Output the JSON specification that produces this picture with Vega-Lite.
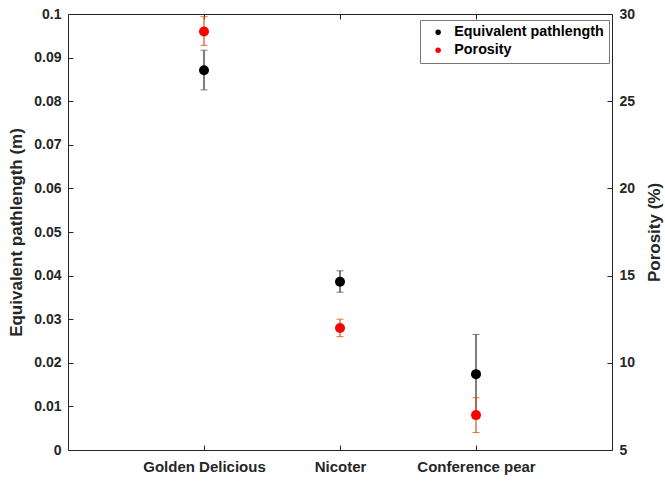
{
  "$schema": "https://vega.github.io/schema/vega-lite/v6.json",
  "width": 544,
  "height": 436,
  "autosize": {"type": "none"},
  "padding": {"left": 68, "top": 14, "right": 53, "bottom": 31},
  "background": "white",
  "config": {
    "view": {"stroke": null},
    "font": "Liberation Sans",
    "axis": {
      "labelFont": "Liberation Sans",
      "labelFontWeight": "bold",
      "labelFontSize": 14,
      "labelColor": "#262626",
      "titleFont": "Liberation Sans",
      "titleFontWeight": "bold",
      "titleFontSize": 17,
      "titleColor": "#262626",
      "domainColor": "#262626",
      "tickColor": "#262626",
      "grid": false,
      "tickSize": -5,
      "domainWidth": 1,
      "tickWidth": 1
    },
    "legend": {
      "orient": "none",
      "legendX": 352,
      "legendY": 6,
      "fillColor": "white",
      "strokeColor": "#777777",
      "padding": 5,
      "symbolOffset": 6,
      "labelFont": "Liberation Sans",
      "labelFontSize": 14.3,
      "labelFontWeight": "bold",
      "labelColor": "#000000",
      "rowPadding": 3,
      "labelOffset": 9,
      "symbolType": "circle",
      "symbolSize": 30
    }
  },
  "datasets": {
    "pl": [
      {"cultivar": "Golden Delicious", "series": "Equivalent pathlength", "value": 0.0871, "lo": 0.0826, "hi": 0.0917},
      {"cultivar": "Nicoter", "series": "Equivalent pathlength", "value": 0.0386, "lo": 0.0362, "hi": 0.0411},
      {"cultivar": "Conference pear", "series": "Equivalent pathlength", "value": 0.0174, "lo": 0.0083, "hi": 0.0265}
    ],
    "po": [
      {"cultivar": "Golden Delicious", "series": "Porosity", "value": 29.0, "lo": 28.2, "hi": 29.85},
      {"cultivar": "Nicoter", "series": "Porosity", "value": 12.0, "lo": 11.5, "hi": 12.5},
      {"cultivar": "Conference pear", "series": "Porosity", "value": 7.0, "lo": 6.0, "hi": 8.0}
    ]
  },
  "layer": [
    {
      "data": {"name": "pl"},
      "mark": {"type": "rule", "color": "#555555", "strokeWidth": 1.5},
      "encoding": {
        "x": {"field": "cultivar", "type": "nominal",
          "scale": {"type": "point", "domain": ["Golden Delicious", "Nicoter", "Conference pear"], "padding": 1},
          "axis": {"orient": "bottom", "title": null, "labelAngle": 0, "labelPadding": 14, "labelFontSize": 15}},
        "y": {"field": "lo", "type": "quantitative",
          "scale": {"domain": [0, 0.1], "nice": false},
          "axis": {"orient": "left", "title": "Equivalent pathlength (m)", "values": [0, 0.01, 0.02, 0.03, 0.04, 0.05, 0.06, 0.07, 0.08, 0.09, 0.1], "format": "~g", "labelPadding": 12, "titlePadding": 8}},
        "y2": {"field": "hi"}
      }
    },
    {
      "data": {"name": "pl"},
      "mark": {"type": "tick", "color": "#444444", "size": 7, "thickness": 1},
      "encoding": {
        "x": {"field": "cultivar", "type": "nominal", "axis": null},
        "y": {"field": "lo", "type": "quantitative", "scale": {"domain": [0, 0.1], "nice": false}, "axis": null}
      }
    },
    {
      "data": {"name": "pl"},
      "mark": {"type": "tick", "color": "#444444", "size": 7, "thickness": 1},
      "encoding": {
        "x": {"field": "cultivar", "type": "nominal", "axis": null},
        "y": {"field": "hi", "type": "quantitative", "scale": {"domain": [0, 0.1], "nice": false}, "axis": null}
      }
    },
    {
      "data": {"name": "pl"},
      "mark": {"type": "point", "filled": true, "size": 100, "opacity": 1},
      "encoding": {
        "x": {"field": "cultivar", "type": "nominal", "axis": null},
        "y": {"field": "value", "type": "quantitative", "scale": {"domain": [0, 0.1], "nice": false}, "axis": null},
        "color": {"field": "series", "type": "nominal",
          "scale": {"domain": ["Equivalent pathlength", "Porosity"], "range": ["#000000", "#ff0000"]},
          "legend": {"title": null}}
      }
    },
    {
      "data": {"name": "po"},
      "mark": {"type": "rule", "color": "#D95319", "opacity": 0.6, "strokeWidth": 2},
      "encoding": {
        "x": {"field": "cultivar", "type": "nominal",
          "axis": {"orient": "top", "title": null, "labels": false}},
        "y": {"field": "lo", "type": "quantitative",
          "scale": {"domain": [5, 30], "nice": false, "zero": false},
          "axis": {"orient": "right", "title": "Porosity (%)", "titleAngle": 270, "values": [5, 10, 15, 20, 25, 30], "labelPadding": 12, "titlePadding": 29}},
        "y2": {"field": "hi"}
      }
    },
    {
      "data": {"name": "po"},
      "mark": {"type": "tick", "color": "#D95319", "opacity": 0.8, "size": 7, "thickness": 1},
      "encoding": {
        "x": {"field": "cultivar", "type": "nominal", "axis": null},
        "y": {"field": "lo", "type": "quantitative", "scale": {"domain": [5, 30], "nice": false, "zero": false}, "axis": null}
      }
    },
    {
      "data": {"name": "po"},
      "mark": {"type": "tick", "color": "#D95319", "opacity": 0.8, "size": 7, "thickness": 1},
      "encoding": {
        "x": {"field": "cultivar", "type": "nominal", "axis": null},
        "y": {"field": "hi", "type": "quantitative", "scale": {"domain": [5, 30], "nice": false, "zero": false}, "axis": null}
      }
    },
    {
      "data": {"name": "po"},
      "mark": {"type": "point", "filled": true, "size": 100, "opacity": 1},
      "encoding": {
        "x": {"field": "cultivar", "type": "nominal", "axis": null},
        "y": {"field": "value", "type": "quantitative", "scale": {"domain": [5, 30], "nice": false, "zero": false}, "axis": null},
        "color": {"field": "series", "type": "nominal",
          "scale": {"domain": ["Equivalent pathlength", "Porosity"], "range": ["#000000", "#ff0000"]},
          "legend": {"title": null}}
      }
    }
  ],
  "resolve": {"scale": {"y": "independent"}, "axis": {"x": "independent", "y": "independent"}}
}
